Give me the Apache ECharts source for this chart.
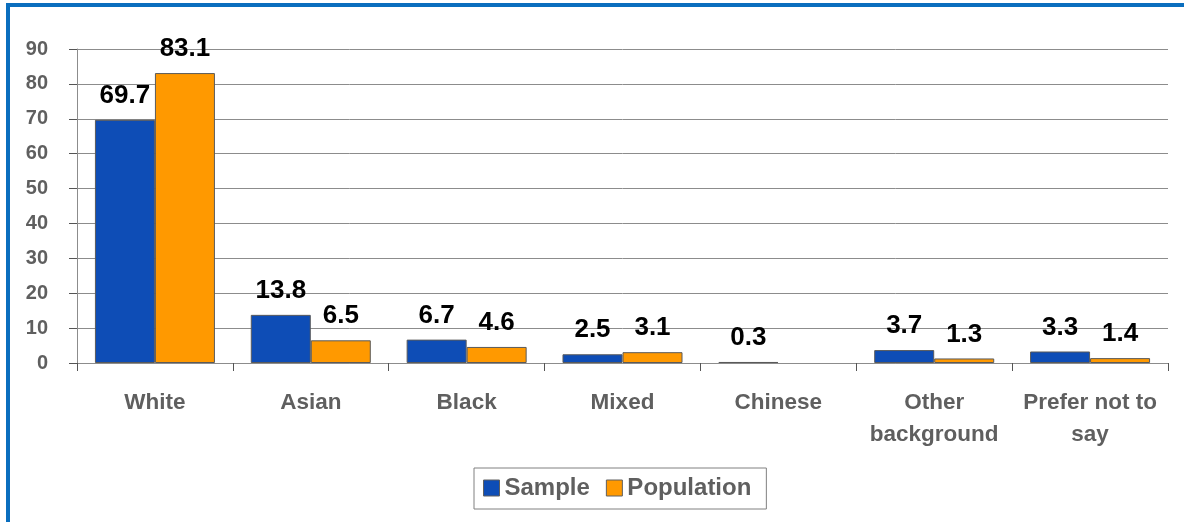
<!DOCTYPE html>
<html>
<head>
<meta charset="utf-8">
<script src="https://cdn.jsdelivr.net/npm/echarts@6/dist/echarts.min.js"></script>
<style>
  html, body { margin: 0; padding: 0; background: #ffffff; }
  #chart { width: 1184px; height: 522px; }
</style>
</head>
<body>
<div id="chart"></div>
<script>
// Ethnic background: survey sample vs. population (%)
const categories = ['White', 'Asian', 'Black', 'Mixed', 'Chinese', 'Other\nbackground', 'Prefer not to\nsay'];
const sampleValues = [69.7, 13.8, 6.7, 2.5, 0.3, 3.7, 3.3];
const populationValues = [83.1, 6.5, 4.6, 3.1, null, 1.3, 1.4];
const yTicks = { min: 0, max: 90, interval: 10 };

const FONT = '"Liberation Sans", Arial, sans-serif';
const GRAY_TEXT = '#5f5f5f';
const GRID_LINE = '#8c8c8c';

const chart = echarts.init(document.getElementById('chart'), null, { renderer: 'canvas' });

const valueLabel = {
  show: true,
  position: 'top',
  distance: 11,
  color: '#000000',
  fontFamily: FONT,
  fontWeight: 'bold',
  fontSize: 26
};

chart.setOption({
  animation: false,
  backgroundColor: '#ffffff',
  graphic: [
    // blue frame edges (top and left)
    { type: 'rect', left: 6, top: 3, shape: { width: 1178, height: 4 }, style: { fill: '#0a6ebe' } },
    { type: 'rect', left: 6, top: 3, shape: { width: 4, height: 519 }, style: { fill: '#0a6ebe' } }
  ],
  grid: { left: 77, right: 16, top: 49, bottom: 159, containLabel: false },
  legend: {
    left: 474,
    top: 468,
    itemWidth: 16,
    itemHeight: 16,
    itemGap: 16,
    icon: 'rect',
    padding: [8, 15, 9, 9],
    borderColor: '#808080',
    borderWidth: 1,
    textStyle: { color: GRAY_TEXT, fontFamily: FONT, fontWeight: 'bold', fontSize: 24 },
    itemStyle: { borderColor: '#606060', borderWidth: 1 },
    data: ['Sample', 'Population']
  },
  xAxis: {
    type: 'category',
    data: categories,
    boundaryGap: true,
    axisLine: { lineStyle: { color: GRID_LINE, width: 1 } },
    axisTick: { show: true, alignWithLabel: false, length: 8, lineStyle: { color: '#555555' } },
    axisLabel: {
      color: GRAY_TEXT,
      fontFamily: FONT,
      fontWeight: 'bold',
      fontSize: 22.5,
      lineHeight: 32,
      margin: 24,
      interval: 0
    }
  },
  yAxis: {
    type: 'value',
    min: yTicks.min,
    max: yTicks.max,
    interval: yTicks.interval,
    axisLine: { show: true, lineStyle: { color: GRID_LINE, width: 1 } },
    axisTick: { show: true, length: 8, lineStyle: { color: '#555555' } },
    axisLabel: {
      color: GRAY_TEXT,
      fontFamily: FONT,
      fontWeight: 'bold',
      fontSize: 20,
      margin: 29
    },
    splitLine: { show: true, lineStyle: { color: GRID_LINE, width: 1 } }
  },
  series: [
    {
      name: 'Sample',
      type: 'bar',
      data: sampleValues,
      barGap: '0%',
      barCategoryGap: '23%',
      itemStyle: { color: '#0e4db6', borderColor: '#5a5a5a', borderWidth: 1 },
      label: valueLabel
    },
    {
      name: 'Population',
      type: 'bar',
      data: populationValues,
      barGap: '0%',
      barCategoryGap: '23%',
      itemStyle: { color: '#ff9900', borderColor: '#5a5a5a', borderWidth: 1 },
      label: valueLabel
    }
  ]
});
</script>
</body>
</html>
